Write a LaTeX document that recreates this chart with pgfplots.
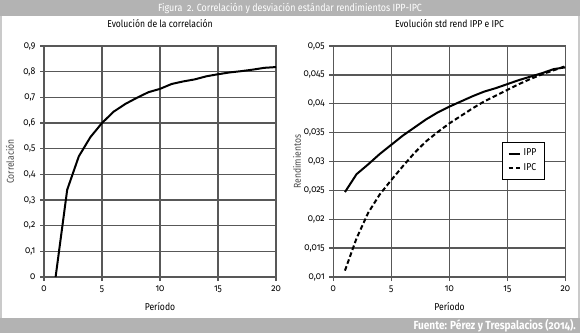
\documentclass[border=0pt]{standalone}
\usepackage{fontspec}
\setmainfont{Fira Sans}[FakeStretch=0.86, Numbers=OldStyle]
\usepackage{pgfplots}
\pgfplotsset{compat=1.18}
\definecolor{barc}{HTML}{B3B3B3}
\definecolor{gridc}{HTML}{585858}

\pgfplotstableread{
p corr
1 0.000
2 0.340
3 0.470
4 0.545
5 0.600
6 0.644
7 0.674
8 0.698
9 0.720
10 0.733
11 0.752
12 0.762
13 0.770
14 0.782
15 0.790
16 0.797
17 0.802
18 0.808
19 0.815
20 0.818
}\corrtable

\pgfplotstableread{
p ipp ipc
1 0.0247 0.0111
2 0.0278 0.0167
3 0.0295 0.0211
4 0.0313 0.0243
5 0.0329 0.0268
6 0.0345 0.0292
7 0.0359 0.0315
8 0.0373 0.0335
9 0.0385 0.0351
10 0.0395 0.0366
11 0.0404 0.0379
12 0.0413 0.0392
13 0.0421 0.0404
14 0.0427 0.0414
15 0.0434 0.0424
16 0.0441 0.0434
17 0.0447 0.0443
18 0.0453 0.0451
19 0.0460 0.0458
20 0.0463 0.0465
}\stdtable

\pgfplotsset{
  myax/.style={
    width=174pt, height=173.25pt, scale only axis,
    xmin=0, xmax=20, xtick={0,5,10,15,20},
    grid=major,
    major grid style={gridc, line width=1pt},
    axis line style={gridc, line width=1pt},
    tick style={gridc, line width=1pt},
    tick align=outside, major tick length=3pt,
    tick pos=left,
    tick label style={font=\fontsize{7.5}{8}\selectfont},
    scaled ticks=false,
    /pgf/number format/assume math mode=true,
    /pgf/number format/use comma,
  }
}

\begin{document}
\begin{tikzpicture}
\begin{scope}[x=0.75pt,y=-0.75pt]
\useasboundingbox (0,0) rectangle (580,334);
\fill[white] (0,0) rectangle (580,334);
\fill[barc] (0,0) rectangle (580,16);
\fill[barc] (0,318) rectangle (580,333);
\fill[barc!70] (0,16) rectangle (2,318);
\fill[barc!70] (577.5,16) rectangle (580,318);
\node[white, font=\fontsize{7.8}{8}\selectfont] at (290,8.5) {Figura\ \ 2. Correlación y desviación estándar rendimientos IPP-IPC};
\node[white, font=\fontsize{8.8}{9}\selectfont\bfseries, anchor=east, inner sep=0pt] at (576,326) {Fuente: Pérez y Trespalacios (2014).};
\node[font=\fontsize{7.5}{8}\selectfont] at (160,24) {Evolución de la correlación};
\node[font=\fontsize{7.5}{8}\selectfont] at (449.5,24) {Evolución std rend IPP e IPC};
\node[font=\fontsize{7.5}{8}\selectfont] at (160,307) {Período};
\node[font=\fontsize{7.5}{8}\selectfont] at (449.5,307) {Período};
\node[font=\fontsize{7.5}{8}\selectfont, rotate=90, gray!60!black] at (10,161.5) {Correlación};
\node[font=\fontsize{7.5}{8}\selectfont, rotate=90, gray!60!black] at (297,161.5) {Rendimientos};
\end{scope}

\begin{axis}[myax,
  at={(33pt,-207.75pt)}, anchor=south west,
  ymin=0, ymax=0.9,
  ytick={0,0.1,0.2,0.3,0.4,0.5,0.6,0.7,0.8,0.9},
  yticklabel style={/pgf/number format/fixed, /pgf/number format/precision=1},
]
\addplot[black, line width=1.5pt] table[x=p, y=corr] {\corrtable};
\end{axis}

\begin{axis}[myax,
  at={(250pt,-207.75pt)}, anchor=south west,
  ymin=0.01, ymax=0.05,
  ytick={0.01,0.015,0.02,0.025,0.03,0.035,0.04,0.045,0.05},
  yticklabel style={/pgf/number format/fixed, /pgf/number format/precision=3},
  legend style={at={(0.727,0.584)}, anchor=north west, draw=black, line width=0.5pt,
    font=\fontsize{7.5}{8}\selectfont, inner xsep=4pt, inner ysep=3pt, row sep=0pt, cells={anchor=west}},
  legend image code/.code={\draw[#1] (0cm,0cm) -- (0.3cm,0cm);},
]
\addplot[black, line width=1.5pt] table[x=p, y=ipp] {\stdtable};
\addlegendentry{IPP}
\addplot[black, line width=1.5pt, dash pattern=on 3.5pt off 2pt] table[x=p, y=ipc] {\stdtable};
\addlegendentry{IPC}
\end{axis}
\end{tikzpicture}
\end{document}
